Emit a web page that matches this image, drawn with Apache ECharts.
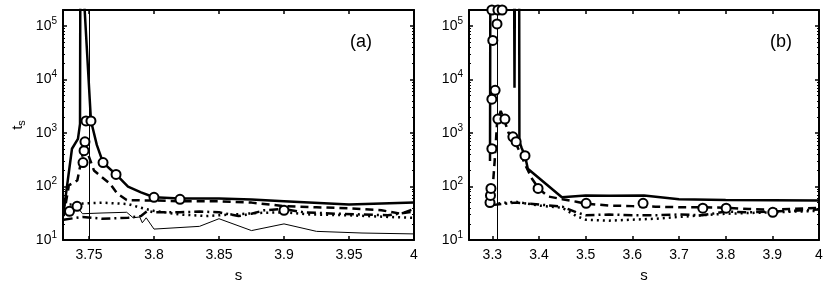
<!DOCTYPE html>
<html><head><meta charset="utf-8">
<script src="https://cdn.jsdelivr.net/npm/echarts@6/dist/echarts.min.js"></script>
<style>html,body{margin:0;padding:0;background:#fff}#c{width:830px;height:288px}</style>
</head><body><div id="c"></div>
<script>
// ---- axes ----
const xTicksA = [3.75, 3.8, 3.85, 3.9, 3.95, 4];
const xTicksB = [3.3, 3.4, 3.5, 3.6, 3.7, 3.8, 3.9, 4];
const yRange = [10, 200000];
const xRangeA = [3.73, 4];
const xRangeB = [3.25, 4];
const vlineA = [3.7454];
const vlineB = [3.312];
const panelLabels = ['(a)', '(b)'];

// ---- panel (a) ----
const aSolid = [[3.7305,34],[3.7369,509],[3.7415,780],[3.7431,1480],[3.7434,5e6],[3.7515,1700],[3.756,600],[3.7608,280],[3.7708,168],[3.78,100],[3.79,78],[3.8,63],[3.82,60],[3.85,60],[3.875,57],[3.9,53],[3.95,46],[3.975,48],[4.0,50]];
const aDashed = [[3.7305,28],[3.7345,105],[3.741,130],[3.7455,450],[3.749,420],[3.7538,200],[3.7585,160],[3.766,114],[3.7715,75],[3.779,56],[3.79,55],[3.8,55],[3.82,53],[3.85,53],[3.875,50],[3.9,43],[3.925,41],[3.95,39],[3.975,36],[3.99,31],[4.0,38]];
const aDashDot = [[3.7305,24],[3.745,27],[3.76,25],[3.78,26],[3.79,28],[3.795,35],[3.8,33],[3.82,33],[3.835,34],[3.85,33],[3.865,28],[3.875,31],[3.885,36],[3.9,38],[3.915,33],[3.94,31],[3.96,30],[3.98,29],[4.0,34]];
const aDotted = [[3.7305,45],[3.745,48],[3.76,50],[3.78,47],[3.79,40],[3.8,35],[3.82,30],[3.84,28],[3.86,30],[3.88,32],[3.9,33],[3.92,30],[3.95,29],[3.98,27],[4.0,26]];
const aThin = [[3.7408,42],[3.745,31],[3.76,32],[3.779,33],[3.784,26],[3.789,27],[3.791,21],[3.794,26],[3.8,16],[3.835,18],[3.85,25],[3.875,15],[3.9,20],[3.925,14.5],[3.96,13.5],[4.0,13]];
const aCircles = [[3.735,34.5],[3.7408,42.7],[3.7454,280],[3.7462,468],[3.7469,687],[3.7477,1683],[3.7515,1683],[3.7608,280],[3.7708,168],[3.8,62.8],[3.82,57.7],[3.9,36]];

// ---- panel (b) ----
const bSolid = [[3.295,300],[3.2965,1e9],[3.3453,1e9],[3.3475,7000],[3.3497,1e9],[3.357,1e9],[3.358,700],[3.363,520],[3.37,377],[3.376,215],[3.449,63],[3.5,68],[3.55,67],[3.625,68],[3.7,58],[3.8,56],[4.0,55]];
const bDashed = [[3.298,45],[3.305,300],[3.31,1500],[3.318,2600],[3.325,1800],[3.335,1000],[3.35,650],[3.36,420],[3.37,260],[3.385,140],[3.4,90],[3.42,65],[3.45,58],[3.48,52],[3.5,48],[3.55,44],[3.6,43],[3.65,42],[3.7,41],[3.75,41],[3.8,40],[3.85,38],[3.9,37],[4.0,40]];
const bDashDot = [[3.3,45],[3.35,50],[3.4,46],[3.45,42],[3.48,33],[3.5,29],[3.55,30],[3.6,29],[3.65,29],[3.7,30],[3.75,29],[3.8,34],[3.85,33],[3.9,34],[4.0,37]];
const bDotted = [[3.3,47],[3.35,52],[3.4,44],[3.45,40],[3.48,28],[3.5,24],[3.55,23],[3.6,24],[3.65,25],[3.7,27],[3.75,29],[3.8,31],[3.9,33],[4.0,35]];
const bCircles = [[3.295,50],[3.296,68],[3.297,92],[3.299,509],[3.299,4300],[3.306,6300],[3.301,54000],[3.31,110000],[3.299,200000],[3.312,200000],[3.321,200000],[3.312,1830],[3.327,1830],[3.344,850],[3.351,690],[3.37,377],[3.398,92],[3.501,48.5],[3.623,48.5],[3.751,39.3],[3.801,39.3],[3.901,33]];

const FONT = 'Liberation Sans, Arial, Helvetica, sans-serif';
const chart = echarts.init(document.getElementById('c'), null, {renderer: 'canvas'});

function fmtX(v) { return String(+v.toFixed(2)); }
function fmtY(v) {
  const e = Math.log10(v);
  if (Math.abs(e - Math.round(e)) > 1e-6) return '';
  return '{b|10}{e|' + Math.round(e) + '}';
}
const axLine = {show: true, lineStyle: {color: '#000', width: 2}};
function xAx(grid, range, ticks, pos, name) {
  return {
    type: 'value', gridIndex: grid, position: pos, min: range[0], max: range[1],
    axisLine: axLine,
    axisTick: {show: true, inside: true, length: 4, customValues: ticks, lineStyle: {color: '#000', width: 1.5}},
    axisLabel: {show: pos === 'bottom', customValues: ticks, formatter: fmtX, color: '#000', fontFamily: FONT, fontSize: 14, margin: 8},
    splitLine: {show: false},
    name: pos === 'bottom' ? name : '', nameLocation: 'middle', nameGap: 28,
    nameTextStyle: {color: '#000', fontFamily: FONT, fontSize: 15}
  };
}
function yAx(grid, pos, withName) {
  return {
    type: 'log', logBase: 10, gridIndex: grid, position: pos, min: yRange[0], max: yRange[1],
    axisLine: axLine,
    axisTick: {show: true, inside: true, length: 4, lineStyle: {color: '#000', width: 1.5}},
    minorTick: {show: true, splitNumber: 9, length: 2, lineStyle: {color: '#000', width: 1}},
    axisLabel: {show: pos === 'left', formatter: fmtY, color: '#000', margin: 6,
      rich: {b: {fontSize: 14, fontFamily: FONT, color: '#000'},
             e: {fontSize: 10, fontFamily: FONT, color: '#000', padding: [0, 0, 10, 0]}}},
    splitLine: {show: false}, minorSplitLine: {show: false},
    name: withName ? '{t|t}{s|s}' : '', nameLocation: 'middle', nameRotate: 90, nameGap: 36,
    nameTextStyle: {rich: {t: {fontSize: 15, fontFamily: FONT, color: '#000'},
                           s: {fontSize: 11, fontFamily: FONT, color: '#000', padding: [7, 0, 0, 0]}}}
  };
}
function line(data, xi, yi, width, type) {
  return {type: 'line', data: data, xAxisIndex: xi, yAxisIndex: yi, showSymbol: false, symbol: 'none',
    lineStyle: {color: '#000', width: width, type: type}, z: 2, animation: false};
}
function circles(data, xi, yi, vlines) {
  return {type: 'scatter', data: data, xAxisIndex: xi, yAxisIndex: yi, symbol: 'circle', symbolSize: 9,
    itemStyle: {color: '#fff', borderColor: '#000', borderWidth: 2, opacity: 1}, z: 5, animation: false,
    markLine: {silent: true, symbol: 'none', label: {show: false}, animation: false,
      lineStyle: {color: '#000', width: 1, type: 'solid', opacity: 1},
      data: vlines.map(v => ({xAxis: v}))}};
}
const DASH = [8, 5], DASHDOT = [9, 4, 2, 4], DOT = [2, 4];

chart.setOption({
  animation: false,
  backgroundColor: '#fff',
  grid: [
    {left: 63, top: 10, width: 351, height: 232},
    {left: 469, top: 10, width: 350, height: 232}
  ],
  xAxis: [
    xAx(0, xRangeA, xTicksA, 'bottom', 's'),
    xAx(0, xRangeA, xTicksA, 'top', ''),
    xAx(1, xRangeB, xTicksB, 'bottom', 's'),
    xAx(1, xRangeB, xTicksB, 'top', '')
  ],
  yAxis: [
    yAx(0, 'left', true),
    yAx(0, 'right', false),
    yAx(1, 'left', false),
    yAx(1, 'right', false)
  ],
  graphic: [
    {type: 'text', left: 350, top: 33, style: {text: panelLabels[0], font: '18px ' + FONT, fill: '#000'}},
    {type: 'text', left: 770, top: 33, style: {text: panelLabels[1], font: '18px ' + FONT, fill: '#000'}}
  ],
  series: [
    line(aThin, 0, 0, 1, 'solid'),
    line(aDotted, 0, 0, 2.5, DOT),
    line(aDashDot, 0, 0, 2.5, DASHDOT),
    line(aDashed, 0, 0, 2.5, DASH),
    line(aSolid, 0, 0, 2.5, 'solid'),
    circles(aCircles, 0, 0, vlineA),
    line(bDotted, 2, 2, 2.5, DOT),
    line(bDashDot, 2, 2, 2.5, DASHDOT),
    line(bDashed, 2, 2, 2.5, DASH),
    line(bSolid, 2, 2, 2.5, 'solid'),
    circles(bCircles, 2, 2, vlineB)
  ]
});
</script></body></html>
